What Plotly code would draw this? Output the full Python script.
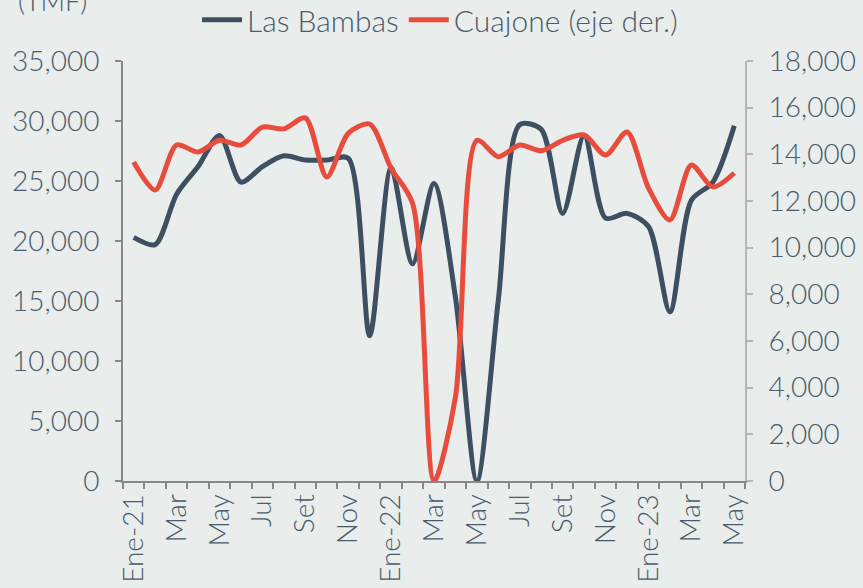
import plotly.graph_objects as go

months = ["Ene-21","Feb-21","Mar-21","Abr-21","May-21","Jun-21","Jul-21","Ago-21","Set-21","Oct-21","Nov-21","Dic-21",
          "Ene-22","Feb-22","Mar-22","Abr-22","May-22","Jun-22","Jul-22","Ago-22","Set-22","Oct-22","Nov-22","Dic-22",
          "Ene-23","Feb-23","Mar-23","Abr-23","May-23"]
tick_labels = ["Ene-21","","Mar","","May","","Jul","","Set","","Nov","",
               "Ene-22","","Mar","","May","","Jul","","Set","","Nov","",
               "Ene-23","","Mar","","May"]
las_bambas = [20300,19700,23900,26200,28800,24900,26200,27100,26750,26750,26900,12100,
              26100,18100,24800,15300,0,15100,29700,29300,22300,28800,21900,22300,
              21200,14100,23400,24900,29600]
cuajone = [13670,12470,14400,14100,14600,14400,15170,15090,15560,13030,14900,15300,
           13400,11900,0,3600,14600,13900,14400,14150,14600,14830,13970,14960,
           12560,11190,13540,12600,13200]

txt = "#4a5b6c"
bg = "#e9edeb"
font_family = "Lato, 'Open Sans', sans-serif"

fig = go.Figure()
fig.add_trace(go.Scatter(x=months, y=las_bambas, name="Las Bambas", mode="lines",
                         line=dict(color="#3d4f61", width=5, shape="spline", smoothing=0.8)))
fig.add_trace(go.Scatter(x=months, y=cuajone, name="Cuajone (eje der.)", mode="lines", yaxis="y2",
                         line=dict(color="#e84c3d", width=5, shape="spline", smoothing=0.8)))

fig.update_layout(
    width=863, height=588,
    margin=dict(l=123, r=118, t=61, b=107, autoexpand=False),
    paper_bgcolor=bg, plot_bgcolor=bg,
    font=dict(family=font_family, color=txt, size=27, weight=300),
    showlegend=True,
    legend=dict(orientation="h", x=(440 - 123) / 622, xanchor="center", y=1.098, yanchor="middle",
                font=dict(size=30, color=txt, weight=300), bgcolor="rgba(0,0,0,0)",
                itemwidth=40, tracegroupgap=0),
    xaxis=dict(type="category", tickmode="array", tickvals=months, ticktext=tick_labels,
               tickson="boundaries", ticks="outside", ticklen=6, tickcolor="#888888", tickwidth=2,
               showline=True, linecolor="#888888", linewidth=2, showgrid=False, zeroline=False,
               tickangle=-90, tickfont=dict(size=28, color=txt, weight=300),
               range=[-0.5, 28.5], automargin=False),
    yaxis=dict(range=[0, 35000], tickvals=[0,5000,10000,15000,20000,25000,30000,35000],
               tickformat=",d", showgrid=False, zeroline=False,
               showline=True, linecolor="#888888", linewidth=2,
               ticks="outside", ticklen=6, tickcolor="#888888", tickwidth=2, automargin=False,
               ticklabelstandoff=10, tickfont=dict(size=28, color=txt, weight=300)),
    yaxis2=dict(range=[0, 18000], tickvals=[0,2000,4000,6000,8000,10000,12000,14000,16000,18000],
                tickformat=",d", overlaying="y", side="right", showgrid=False, zeroline=False,
                showline=True, linecolor="#b5b5b5", linewidth=2, automargin=False,
                ticks="outside", ticklen=6, tickcolor="#b5b5b5", tickwidth=2,
                ticklabelstandoff=10, tickfont=dict(size=28, color=txt, weight=300)),
    annotations=[dict(text="(TMF)", xref="paper", yref="paper", x=-0.114, y=1.145,
                      xanchor="center", yanchor="middle", showarrow=False,
                      font=dict(size=27, color=txt, weight=300))],
)

fig.write_html("out.html", config={"displayModeBar": False},
               post_script="document.body.style.margin='0';document.body.style.background='%s';" % bg)
